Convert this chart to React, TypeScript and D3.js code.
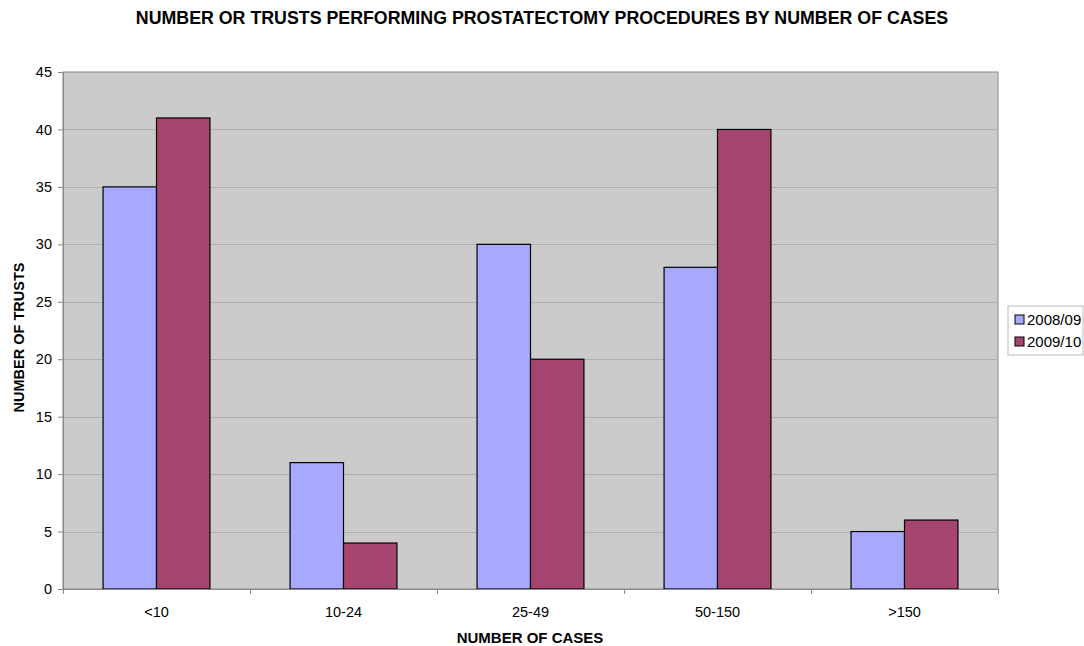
import React, { useRef, useEffect } from "react";
import * as d3 from "d3";

const categories = ["<10", "10-24", "25-49", "50-150", ">150"];
const seriesNames = ["2008/09", "2009/10"];
const values0809 = [35, 11, 30, 28, 5];
const values0910 = [41, 4, 20, 40, 6];
const yTicks = [0, 5, 10, 15, 20, 25, 30, 35, 40, 45];
const colors = ["#a8a8ff", "#a64670"];

const App = () => {
  const svgRef = useRef<SVGSVGElement>(null);

  useEffect(() => {
    const width = 1084;
    const height = 646;
    const margin = { top: 72, left: 63, right: 86, bottom: 57 };
    const innerWidth = width - margin.left - margin.right;
    const innerHeight = height - margin.top - margin.bottom;

    const svg = d3.select(svgRef.current);
    svg.selectAll("*").remove();
    svg.attr("width", width).attr("height", height);
    const font = "'Liberation Sans', Arial, sans-serif";

    svg
      .append("rect")
      .attr("width", width)
      .attr("height", height)
      .attr("fill", "#ffffff");

    // title
    svg
      .append("text")
      .attr("x", 542)
      .attr("y", 24)
      .attr("text-anchor", "middle")
      .attr("font-family", font)
      .attr("font-weight", "bold")
      .attr("font-size", 17.8)
      .text("NUMBER OR TRUSTS PERFORMING PROSTATECTOMY PROCEDURES BY NUMBER OF CASES");

    const chart = svg
      .append("g")
      .attr("transform", `translate(${margin.left}, ${margin.top})`);

    const x = d3.scaleBand().domain(categories).range([0, innerWidth]);
    const y = d3.scaleLinear().domain([0, 45]).range([innerHeight, 0]);

    // plot background
    chart
      .append("rect")
      .attr("width", innerWidth)
      .attr("height", innerHeight)
      .attr("fill", "#cbcbcb")
      .attr("stroke", "#888888")
      .attr("stroke-width", 1);

    // horizontal grid lines
    chart
      .append("g")
      .selectAll("line")
      .data(yTicks.filter((t) => t > 0 && t < 45))
      .enter()
      .append("line")
      .attr("x1", 0)
      .attr("x2", innerWidth)
      .attr("y1", (d) => Math.round(y(d)) + 0.5)
      .attr("y2", (d) => Math.round(y(d)) + 0.5)
      .attr("stroke", "#afafaf");

    // bars
    const bw = x.bandwidth() / 3.5;
    const series = [values0809, values0910];
    series.forEach((vals, si) => {
      chart
        .append("g")
        .selectAll("rect")
        .data(vals)
        .enter()
        .append("rect")
        .attr("x", (_, i) => (x(categories[i]) ?? 0) + 0.75 * bw + si * bw)
        .attr("y", (d) => y(d))
        .attr("width", bw)
        .attr("height", (d) => innerHeight - y(d))
        .attr("fill", colors[si])
        .attr("stroke", "#000000")
        .attr("stroke-width", 1.2);
    });

    // y axis
    const yAxis = chart
      .append("g")
      .call(d3.axisLeft(y).tickValues(yTicks).tickSize(5).tickSizeOuter(0));
    yAxis.select(".domain").attr("stroke", "#888888");
    yAxis.selectAll("line").attr("stroke", "#888888");
    yAxis
      .selectAll("text")
      .attr("font-family", font)
      .attr("font-size", 14.5)
      .attr("fill", "#000")
      .attr("dx", -3);

    // x axis
    const xAxis = chart
      .append("g")
      .attr("transform", `translate(0, ${innerHeight})`)
      .call(d3.axisBottom(x).tickSize(0).tickSizeOuter(0));
    xAxis.select(".domain").attr("stroke", "#888888");
    xAxis
      .selectAll("text")
      .attr("font-family", font)
      .attr("font-size", 14.5)
      .attr("fill", "#000")
      .attr("dy", "1.75em");
    chart
      .append("g")
      .selectAll("line")
      .data(d3.range(categories.length + 1))
      .enter()
      .append("line")
      .attr("x1", (i) => Math.round(i * x.step()) + 0.5)
      .attr("x2", (i) => Math.round(i * x.step()) + 0.5)
      .attr("y1", innerHeight)
      .attr("y2", innerHeight + 5)
      .attr("stroke", "#888888");

    // axis titles
    svg
      .append("text")
      .attr("x", 530)
      .attr("y", 643)
      .attr("text-anchor", "middle")
      .attr("font-family", font)
      .attr("font-weight", "bold")
      .attr("font-size", 15)
      .text("NUMBER OF CASES");
    svg
      .append("text")
      .attr("transform", `translate(24, ${margin.top + innerHeight / 2 + 7}) rotate(-90)`)
      .attr("text-anchor", "middle")
      .attr("font-family", font)
      .attr("font-weight", "bold")
      .attr("font-size", 14.5)
      .text("NUMBER OF TRUSTS");

    // legend
    const legend = svg.append("g").attr("transform", "translate(1008, 306)");
    legend
      .append("rect")
      .attr("width", 75)
      .attr("height", 49)
      .attr("fill", "#ffffff")
      .attr("stroke", "#bbbbbb");
    seriesNames.forEach((name, i) => {
      legend
        .append("rect")
        .attr("x", 7)
        .attr("y", 9 + i * 22)
        .attr("width", 9)
        .attr("height", 9)
        .attr("fill", colors[i])
        .attr("stroke", "#000");
      legend
        .append("text")
        .attr("x", 19)
        .attr("y", 19 + i * 22)
        .attr("font-family", font)
        .attr("font-size", 15)
        .text(name);
    });
  }, []);

  return (
    <div style={{ position: "absolute", left: 0, top: 0 }}>
      <svg ref={svgRef}></svg>
    </div>
  );
};

export default App;
